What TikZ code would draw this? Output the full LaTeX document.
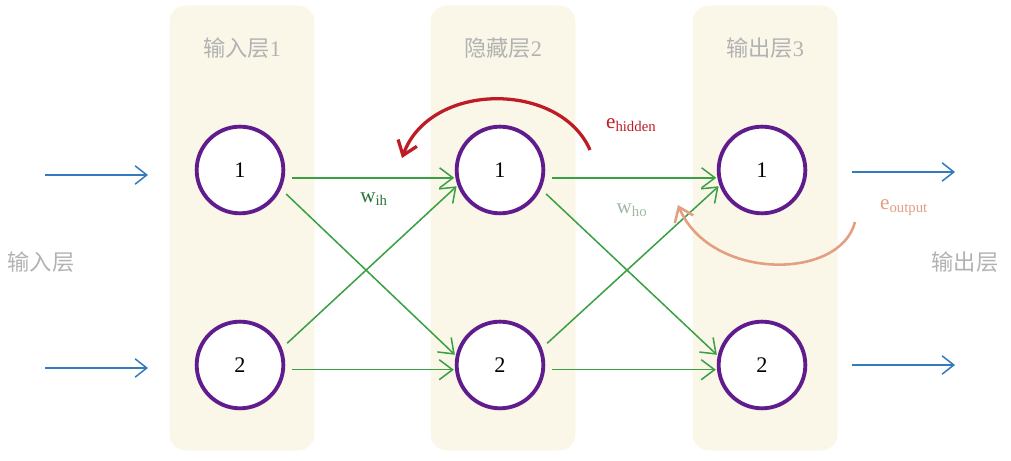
\documentclass[tikz,border=0pt]{standalone}
\usepackage{fontspec}
\setmainfont{Liberation Serif}
\newfontfamily\cjk{Noto Sans CJK SC}
\usetikzlibrary{arrows.meta,positioning}
\definecolor{NnCream}{RGB}{250,247,233}
\definecolor{NnPurple}{RGB}{96,28,140}
\definecolor{NnGreen}{RGB}{58,160,68}
\definecolor{NnDarkGreen}{RGB}{40,115,55}
\definecolor{NnPaleGreen}{RGB}{160,185,160}
\definecolor{NnBlue}{RGB}{52,122,192}
\definecolor{NnRed}{RGB}{190,28,36}
\definecolor{NnSalmon}{RGB}{228,158,128}
\definecolor{NnGray}{RGB}{178,178,178}
\tikzset{
  nn/panel/.style={
    fill=NnCream,
    rounded corners=14pt,
    minimum width=4.35cm,
    minimum height=13.35cm
  },
  nn/neuron/.style={
    circle,
    draw=NnPurple,
    line width=3.3pt,
    fill=white,
    minimum size=2.6cm,
    font=\fontsize{19}{22}\selectfont
  },
  nn/title/.style={font=\cjk\fontsize{19}{22}\selectfont, text=NnGray},
  nn/side/.style={font=\cjk\fontsize{19}{22}\selectfont, text=NnGray},
  nn/weight/.style={font=\fontsize{18}{21}\selectfont},
  nn/link/.style={-{Straight Barb[length=4mm,width=6mm]}, line width=1.3pt, draw=NnGreen,
    shorten <=6pt, shorten >=1pt},
  nn/io/.style={-{Straight Barb[length=3.5mm,width=5.5mm]}, line width=1.3pt, draw=NnBlue},
  nn/back/.style={-{Straight Barb[length=4mm,width=6mm]}, line width=2.8pt},
}
\begin{document}
\begin{tikzpicture}[x=0.03cm,y=0.03cm]
  \useasboundingbox (0,0) rectangle (1011,461);
  % layer panels
  \node[nn/panel] (p1) at (242,233) {};
  \node[nn/panel] (p2) at (503,233) {};
  \node[nn/panel] (p3) at (765,233) {};
  \node[nn/title] (t1) at (242,413) {输入层\rmfamily 1};
  \node[nn/title] (t2) at (503,413) {隐藏层\rmfamily 2};
  \node[nn/title] (t3) at (765,413) {输出层\rmfamily 3};
  % neurons
  \node[nn/neuron] (i1) at (240,291) {1};
  \node[nn/neuron] (i2) at (240,96) {2};
  \node[nn/neuron] (h1) at (500,291) {1};
  \node[nn/neuron] (h2) at (500,96) {2};
  \node[nn/neuron] (o1) at (762,291) {1};
  \node[nn/neuron] (o2) at (762,96) {2};
  % inputs and outputs
  \node[nn/side] (inlab) at (41,199) {输入层};
  \node[nn/side] (outlab) at (965,199) {输出层};
  \coordinate (in1) at (45,286);
  \coordinate (in1e) at (148,286);
  \coordinate (in2) at (45,93);
  \coordinate (in2e) at (148,93);
  \coordinate (out1) at (852,289);
  \coordinate (out1e) at (955,289);
  \coordinate (out2) at (852,96);
  \coordinate (out2e) at (955,96);
  \draw[nn/io] (in1) -- (in1e);
  \draw[nn/io] (in2) -- (in2e);
  \draw[nn/io] (out1) -- (out1e);
  \draw[nn/io] (out2) -- (out2e);
  % weights
  \draw[nn/link] (i1.-10) -- (h1.190);
  \draw[nn/link] (i1.-25) -- (h2.168);
  \draw[nn/link] (i2.22) -- (h1.200);
  \draw[nn/link] (i2.-6) -- (h2.186);
  \draw[nn/link] (h1.-10) -- (o1.190);
  \draw[nn/link] (h1.-25) -- (o2.168);
  \draw[nn/link] (h2.22) -- (o1.200);
  \draw[nn/link] (h2.-6) -- (o2.186);
  \node[nn/weight, text=NnDarkGreen] (wih) at (374,262) {w\textsubscript{ih}};
  \node[nn/weight, text=NnPaleGreen] (who) at (632,251) {w\textsubscript{ho}};
  % errors
  \coordinate (ehs) at (590,311);
  \coordinate (ehe) at (402,303);
  \draw[nn/back, draw=NnRed] (ehs) .. controls (560,380) and (430,380) .. (ehe);
  \node[nn/weight, text=NnRed, anchor=west] (ehid) at (602,336) {e\textsubscript{hidden}};
  \coordinate (eos) at (855,239);
  \coordinate (eoe) at (678,256);
  \draw[nn/back, line width=2.2pt, draw=NnSalmon] (eos) .. controls (840,180) and (710,180) .. (eoe);
  \node[nn/weight, text=NnSalmon, anchor=west] (eout) at (876,253) {e\textsubscript{output}};
\end{tikzpicture}
\end{document}
